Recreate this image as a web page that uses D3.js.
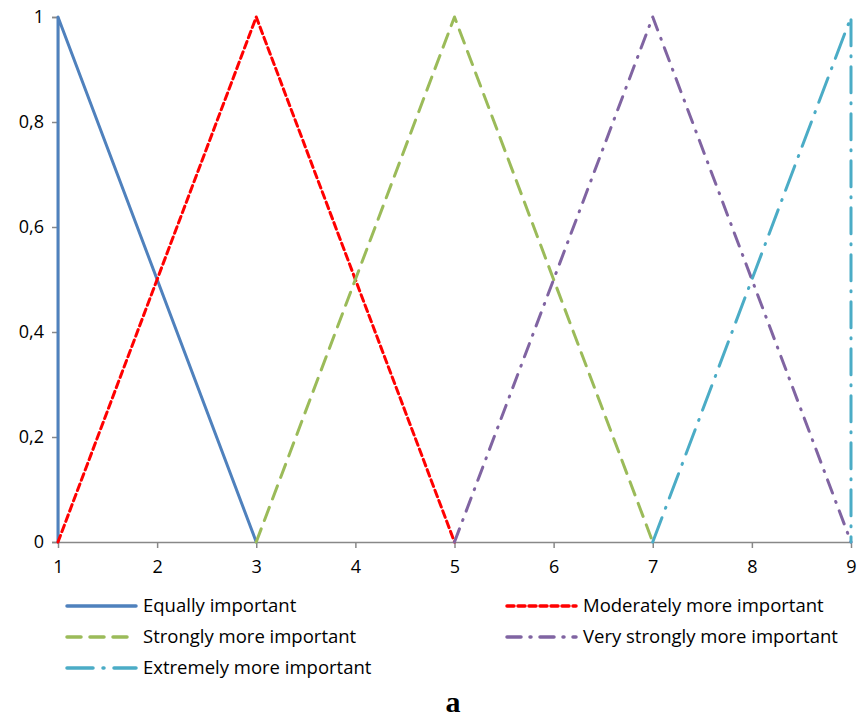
<!DOCTYPE html>
<html>
<head>
<meta charset="utf-8">
<script src="https://cdn.jsdelivr.net/npm/d3@7"></script>
<style>
  body { margin: 0; background: #fff; }
  text { font-family: "Open Sans", "Noto Sans", sans-serif; }
</style>
</head>
<body>
<div id="chart"></div>
<script>
// dữ liệu
const xTicks = [1, 2, 3, 4, 5, 6, 7, 8, 9];
const yTicks = [0, 0.2, 0.4, 0.6, 0.8, 1];
const seriesNames = [
  "Equally important",
  "Moderately more important",
  "Strongly more important",
  "Very strongly more important",
  "Extremely more important"
];
const equallyPts = [[1, 0], [1, 1], [3, 0]];
const moderatelyPts = [[1, 0], [3, 1], [5, 0]];
const stronglyPts = [[3, 0], [5, 1], [7, 0]];
const veryStronglyPts = [[5, 0], [7, 1], [9, 0]];
const extremelyPts = [[7, 0], [9, 1], [9, 0]];

const W = 857, H = 719;
const margin = { top: 17, right: 5, bottom: 177, left: 58 };
const innerW = W - margin.left - margin.right;
const innerH = H - margin.top - margin.bottom;

const styles = [
  { color: "#4F81BD", dash: null },
  { color: "#FF0000", dash: "7,4" },
  { color: "#9BBB59", dash: "14,9" },
  { color: "#8064A2", dash: "14,9,1,9" },
  { color: "#4BACC6", dash: "26,10,1,10" }
];
const allSeries = [equallyPts, moderatelyPts, stronglyPts, veryStronglyPts, extremelyPts];

const svg = d3.select("#chart").append("svg")
  .attr("width", W).attr("height", H);
const g = svg.append("g").attr("transform", `translate(${margin.left},${margin.top})`);

const x = d3.scaleLinear().domain([1, 9]).range([0, innerW - 1]);
const y = d3.scaleLinear().domain([0, 1]).range([innerH, 0]);

// trục
const fmtY = d => d === 0 ? "0" : d === 1 ? "1" : d3.format(".1f")(d).replace(".", ",");
const yAxis = g.append("g")
  .call(d3.axisLeft(y).tickValues(yTicks).tickFormat(fmtY).tickSize(6).tickPadding(8));
yAxis.select(".domain").attr("stroke", "#888").attr("stroke-width", 1.5);
yAxis.selectAll(".tick line").attr("stroke", "#888").attr("stroke-width", 1.5);
yAxis.selectAll("text").style("font-size", "18px").attr("fill", "#000");

const xAxis = g.append("g")
  .attr("transform", `translate(0,${innerH})`)
  .call(d3.axisBottom(x).tickValues(xTicks).tickFormat(d3.format("d")).tickSize(6).tickSizeOuter(0).tickPadding(12));
xAxis.select(".domain").attr("stroke", "#888").attr("stroke-width", 1.5);
xAxis.selectAll(".tick line").attr("stroke", "#888").attr("stroke-width", 1.5);
xAxis.selectAll("text").style("font-size", "18px").attr("fill", "#000");

// đường
const line = d3.line().x(d => x(d[0])).y(d => y(d[1]));
allSeries.forEach((pts, i) => {
  g.append("path")
    .attr("d", line(pts))
    .attr("fill", "none")
    .attr("stroke", styles[i].color)
    .attr("stroke-width", 3)
    .attr("stroke-linecap", "round")
    .attr("stroke-linejoin", "round")
    .attr("stroke-dasharray", styles[i].dash);
});

// chú thích
const legendPos = [[67, 606], [507, 606], [67, 637], [507, 637], [67, 668]];
seriesNames.forEach((name, i) => {
  const [lx, ly] = legendPos[i];
  const lg = svg.append("g").attr("transform", `translate(${lx},${ly})`);
  lg.append("line")
    .attr("x1", 0).attr("x2", 69).attr("y1", 0).attr("y2", 0)
    .attr("stroke", styles[i].color)
    .attr("stroke-width", 3.5)
    .attr("stroke-linecap", "round")
    .attr("stroke-dasharray", styles[i].dash);
  lg.append("text")
    .attr("x", 76).attr("y", 0).attr("dy", "0.35em")
    .style("font-size", "18.5px")
    .text(name);
});

svg.append("text")
  .attr("x", 453).attr("y", 712)
  .attr("text-anchor", "middle")
  .style("font-family", "'Liberation Serif', serif")
  .style("font-weight", "bold")
  .style("font-size", "30px")
  .text("a");
</script>
</body>
</html>
